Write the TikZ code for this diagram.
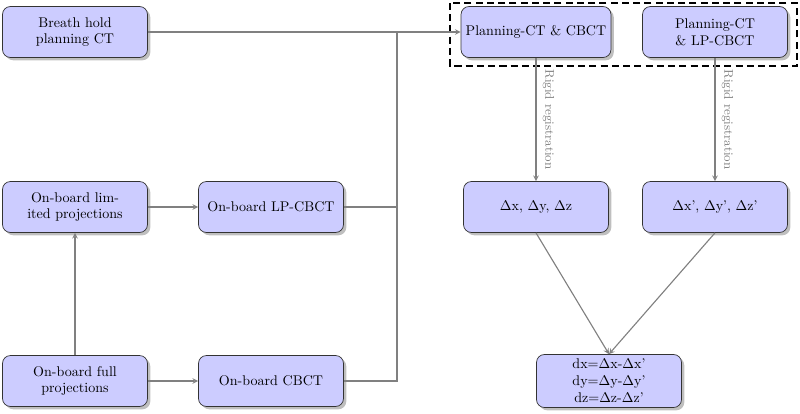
\documentclass[tikz,border=0pt]{standalone}
\usepackage{amsmath, amsfonts, amssymb}
\usepackage{xcolor}
\usepackage{tikz}
\usetikzlibrary{shadows}

\tikzset{
  block/.style={draw=black!80, fill=blue!20, rounded corners=2mm, align=center,
    minimum width=3.625cm, minimum height=1.275cm, line width=0.5pt,
    drop shadow={shadow xshift=0.07cm, shadow yshift=-0.07cm, fill=black!50}},
  line/.style={draw=black!50, line width=0.8pt},
  arr/.style={line, ->, >=stealth}
}

\begin{document}
\begin{tikzpicture}
\useasboundingbox (0,0) rectangle (20,-10.325);

\node[block] (bh) at (1.875,-0.8) {Breath hold\\planning CT};
\node[block] (lim) at (1.875,-5.175) {On-board lim-\\ited projections};
\node[block] (full) at (1.875,-9.525) {On-board full\\projections};
\node[block] (lp) at (6.775,-5.175) {On-board LP-CBCT};
\node[block] (cb) at (6.775,-9.525) {On-board CBCT};

\node[block] (pc) at (13.4,-0.8) {Planning-CT \& CBCT};
\node[block] (plp) at (17.875,-0.8) {Planning-CT\\\& LP-CBCT};
\node[block] (d1) at (13.4,-5.175) {$\Delta$x, $\Delta$y, $\Delta$z};
\node[block] (d2) at (17.875,-5.175) {$\Delta$x', $\Delta$y', $\Delta$z'};
\node[block] (res) at (15.225,-9.525) {dx=$\Delta$x-$\Delta$x'\\dy=$\Delta$y-$\Delta$y'\\dz=$\Delta$z-$\Delta$z'};

\draw[dash pattern=on 5pt off 3pt, line width=1pt] (11.25,-0.075) rectangle (19.925,-1.65);

\coordinate (j) at (9.925,-0.8);
\draw[arr] (bh) -- (pc);
\draw[line] (lp) -| (j);
\draw[line] (cb) -| (j);
\draw[arr] (full) -- (lim);
\draw[arr] (lim) -- (lp);
\draw[arr] (full) -- (cb);

\draw[arr] (pc) -- node[rotate=-90, anchor=south, yshift=1pt, text=black!50, font=\small] {Rigid registration} (d1);
\draw[arr] (plp) -- node[rotate=-90, anchor=south, yshift=1pt, text=black!50, font=\small] {Rigid registration} (d2);
\draw[arr] (d1.south) -- (res.north);
\draw[arr] (d2.south) -- (res.north);
\end{tikzpicture}
\end{document}
